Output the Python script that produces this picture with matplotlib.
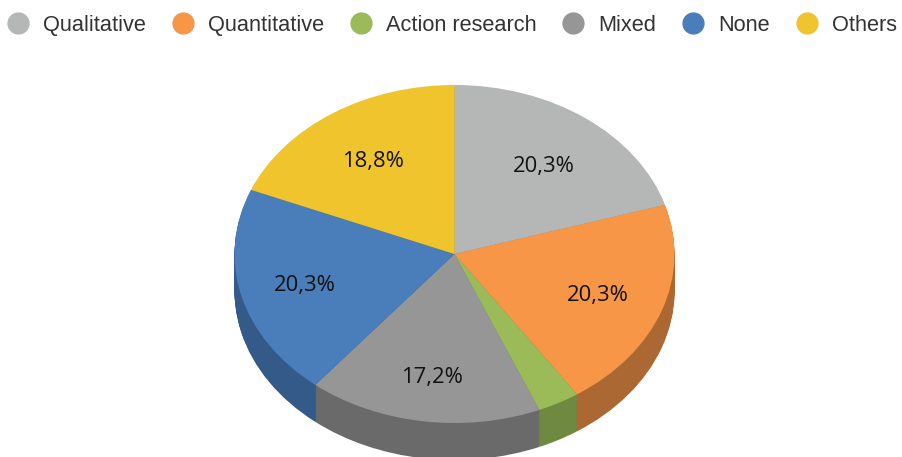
import matplotlib
matplotlib.use('Agg')
import matplotlib.pyplot as plt
from matplotlib.lines import Line2D

# datos
categorias = ['Qualitative', 'Quantitative', 'Action research', 'Mixed', 'None', 'Others']
valores = [20.3, 20.3, 3.1, 17.2, 20.3, 18.8]
etiquetas = ['20,3%', '20,3%', '', '17,2%', '20,3%', '18,8%']
colores = ['#B5B7B6', '#F79646', '#9BBB59', '#969696', '#4A7EBB', '#F0C42C']
colores_lado = ['#8A8C8B', '#AB6833', '#6F8A40', '#6A6A6A', '#345A8A', '#A8891F']

W, H = 902, 457
centro_x, centro_y = 454.5, 254
radio_x, radio_y = 220, 169
profundidad = 37

# donde va cada etiqueta, en pixeles de la imagen
pos_etiquetas = [(544, 166), (598, 296), None, (432, 378), (305, 286), (373, 161)]

fig = plt.figure(figsize=(W / 100, H / 100), dpi=100)
ax = fig.add_axes([0, 0, 1, 1])

escala = radio_x / radio_y
cy = (H - centro_y) * escala

# lado del pastel: copias mas oscuras desplazadas hacia abajo
for d in range(profundidad, 0, -1):
    ax.pie(valores, colors=colores_lado, startangle=90, counterclock=False,
           radius=radio_x, center=(centro_x, cy - d * escala), frame=True)

ax.pie(valores, colors=colores, startangle=90, counterclock=False,
       radius=radio_x, center=(centro_x, cy), frame=True)

ax.set_aspect('auto')
ax.set_xlim(0, W)
ax.set_ylim(0, H * escala)
ax.axis('off')

for texto, pos in zip(etiquetas, pos_etiquetas):
    if pos is not None:
        fig.text(pos[0] / W, 1 - pos[1] / H, texto, fontsize=15.8, color='#111111',
                 family='Open Sans', ha='center', va='center')

handles = [Line2D([], [], linestyle='none', marker='o', markersize=15, color=c) for c in colores]
fig.legend(handles, categorias, loc='upper left', bbox_to_anchor=(-5 / W, 1 - 3 / H), ncol=6,
           frameon=False, prop={'family': 'Liberation Sans', 'size': 15.7}, labelcolor='#333333',
           handlelength=1, handletextpad=0.64, columnspacing=1.2,
           borderpad=0.3, borderaxespad=0.25)

fig.savefig('out.png', dpi=100)
